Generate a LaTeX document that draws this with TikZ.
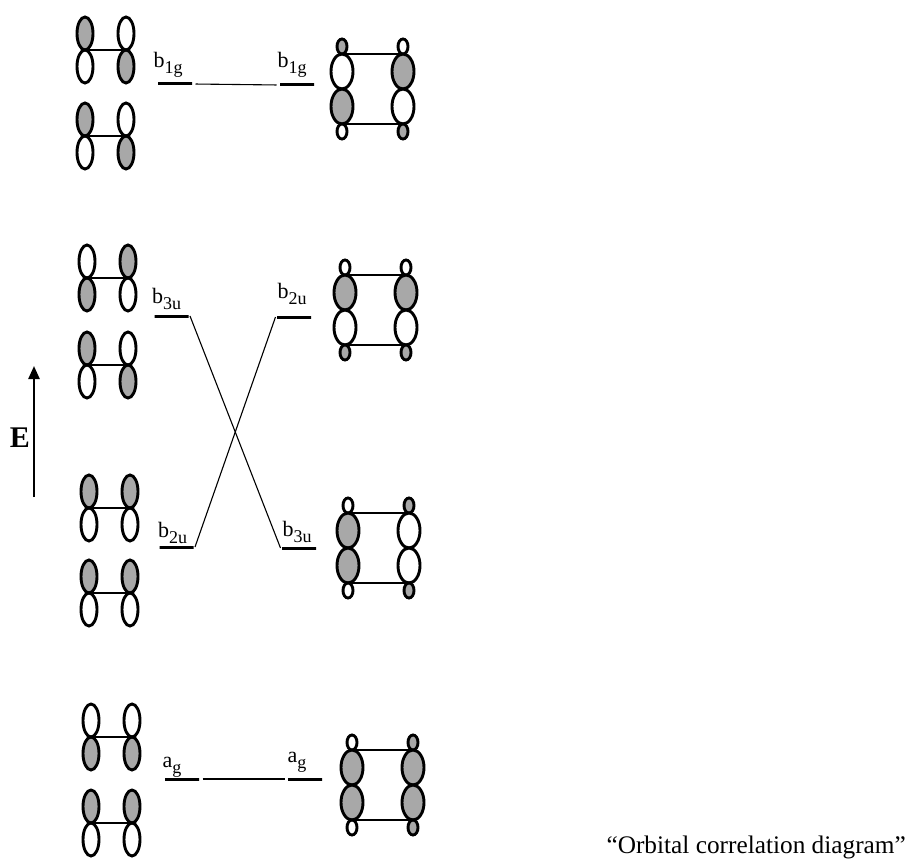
\documentclass[tikz,border=0pt]{standalone}
\usepackage{fontspec}
\setmainfont{Liberation Serif}
\usepackage{tikz}
\usetikzlibrary{arrows.meta}

\definecolor{lobegray}{gray}{0.66}

\tikzstyle{lobe} = [draw=black, line width=2.9pt]
\tikzstyle{bond} = [draw=black, line width=2.3pt]
\tikzstyle{level} = [rectangle,
                     minimum width=34pt,
                     minimum height=0pt,
                     inner sep=0pt,
                     draw=black,
                     line width=3pt,
                    ]
\tikzstyle{corr} = [draw=black, line width=1.1pt]
\tikzstyle{lab} = [anchor=base west, inner sep=0pt, font=\fontsize{22}{26}\selectfont]
\tikzstyle{arrow} = [line width=2.4pt, -{Triangle[length=13pt,width=11pt]}]

% symmetry label subscript
\newcommand{\lsub}[1]{\raisebox{-6pt}{\fontsize{18}{18}\selectfont #1}}

% two p orbitals joined by a bond: x, y of the bond, then fills UL, UR, LL, LR
\newcommand{\ppair}[6]{%
  \begin{scope}[shift={(#1,#2)}]
    \draw[lobe, fill=#3] (0,-16.5) ellipse (8 and 16.5);
    \draw[lobe, fill=#4] (41,-16.5) ellipse (8 and 16.5);
    \draw[lobe, fill=#5] (0,16.5) ellipse (8 and 16.5);
    \draw[lobe, fill=#6] (41,16.5) ellipse (8 and 16.5);
    \draw[bond] (0,0) -- (41,0);
  \end{scope}}

% four-centre ring orbital: position, left column fills top to bottom, right column fills
\newcommand{\ring}[9]{%
  \begin{scope}[shift={#1}]
    \foreach \cx/\ca/\cb/\cc/\cd in {0/#2/#3/#4/#5, 61/#6/#7/#8/#9} {
      \draw[lobe, fill=\ca] (\cx,-42.5) ellipse (5 and 7.5);
      \draw[lobe, fill=\cb] (\cx,-17.5) ellipse (11 and 17.5);
      \draw[lobe, fill=\cc] (\cx,17.5) ellipse (11 and 17.5);
      \draw[lobe, fill=\cd] (\cx,42.5) ellipse (5 and 7.5);
    }
    \draw[bond] (0,-35) -- (61,-35);
    \draw[bond] (0,35) -- (61,35);
  \end{scope}}

\begin{document}
\begin{tikzpicture}[x=1pt, y=-1pt]
\useasboundingbox (0,0) rectangle (912,864);

% left side: pairs of ethylene pi orbitals
\ppair{85}{50}{lobegray}{white}{white}{lobegray}
\ppair{85}{136}{lobegray}{white}{white}{lobegray}
\ppair{87}{278}{white}{lobegray}{lobegray}{white}
\ppair{87}{365}{lobegray}{white}{white}{lobegray}
\ppair{89}{508}{lobegray}{lobegray}{white}{white}
\ppair{89}{593}{lobegray}{lobegray}{white}{white}
\ppair{91}{737}{white}{white}{lobegray}{lobegray}
\ppair{91}{823}{lobegray}{lobegray}{white}{white}

% right side: cyclobutane orbitals
\ring{(342,89)}{lobegray}{white}{lobegray}{white}{white}{lobegray}{white}{lobegray}
\ring{(345,310)}{white}{lobegray}{white}{lobegray}{white}{lobegray}{white}{lobegray}
\ring{(348,548)}{white}{lobegray}{lobegray}{white}{lobegray}{white}{white}{lobegray}
\ring{(352,785)}{white}{lobegray}{lobegray}{white}{lobegray}{lobegray}{lobegray}{lobegray}

% energy levels
\node (b1gleft) [level] at (175,84) {};
\node (b1gright) [level] at (297,85) {};
\node (b3uleft) [level] at (171.5,316) {};
\node (b2uright) [level] at (294,317) {};
\node (b2uleft) [level] at (176.5,547) {};
\node (b3uright) [level] at (299,548) {};
\node (agleft) [level] at (182,779) {};
\node (agright) [level] at (305,779) {};

\node (b1glabL) [lab] at ([shift={(-3pt,16pt)}]b1gleft.west) {b\lsub{1g}};
\node (b1glabR) [lab] at ([shift={(-1pt,17pt)}]b1gright.west) {b\lsub{1g}};
\node (b3ulabL) [lab] at ([shift={(-1pt,13pt)}]b3uleft.west) {b\lsub{3u}};
\node (b2ulabR) [lab] at ([shift={(2pt,19pt)}]b2uright.west) {b\lsub{2u}};
\node (b2ulabL) [lab] at ([shift={(0pt,10pt)}]b2uleft.west) {b\lsub{2u}};
\node (b3ulabR) [lab] at ([shift={(2pt,12pt)}]b3uright.west) {b\lsub{3u}};
\node (aglabL) [lab] at ([shift={(-1pt,12pt)}]agleft.west) {a\lsub{g}};
\node (aglabR) [lab] at ([shift={(1pt,17pt)}]agright.west) {a\lsub{g}};

% correlation lines
\draw [corr, shorten <=2pt, shorten >=2pt] (b1gleft.east) -- (b1gright.west);
\draw [corr] (b3uleft.east) -- (b3uright.west);
\draw [corr] (b2uleft.east) -- (b2uright.west);
\draw [corr, shorten <=2pt, shorten >=2pt] (agleft.east) -- (agright.west);

% energy axis
\coordinate (Ebot) at (34,497);
\coordinate (Etop) at (34,366);
\draw [arrow] (Ebot) -- (Etop);
\node (E) at (20,438) {\fontsize{30}{34}\selectfont\bfseries E};

\node (caption) [anchor=base east, inner sep=0pt, font=\fontsize{25.3}{30}\selectfont] at (906,853) {“Orbital correlation diagram”};

\end{tikzpicture}
\end{document}
